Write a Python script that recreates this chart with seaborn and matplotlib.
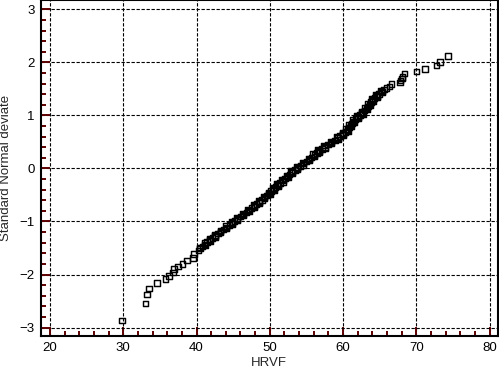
import matplotlib
matplotlib.use("Agg")
import matplotlib.pyplot as plt
import seaborn as sns
from matplotlib.ticker import MultipleLocator

# --- values (HRVF vs standard normal deviate) ---
hrvf_low = [29.86, 33.05, 33.23, 33.55, 34.64, 35.78, 36.27, 36.82, 36.96,
            37.5, 38.1, 38.7, 39.55, 39.64, 40.3]
dev_low = [-2.87, -2.55, -2.38, -2.26, -2.16, -2.09, -2.03, -1.96, -1.90,
           -1.85, -1.80, -1.74, -1.69, -1.61, -1.55]

hrvf_mid = [40.5, 40.8, 41.1, 41.4, 41.8, 42.2, 42.5, 42.9, 43.3, 43.7,
            44.1, 44.5, 44.9, 45.2, 45.6, 46.0, 46.4, 46.8, 47.1, 47.5,
            47.9, 48.2, 48.6, 48.9, 49.3, 49.6, 49.9, 50.2, 50.5, 50.8,
            51.1, 51.4, 51.8, 52.1, 52.4, 52.7, 53.0, 53.4, 53.8, 54.2,
            54.6, 55.0, 55.4, 55.7, 56.1, 56.4, 56.7, 57.1, 57.5, 57.9,
            58.4, 58.9, 59.3, 59.6, 60.0, 60.3, 60.6, 60.8, 61.0, 61.2,
            61.4, 61.7, 62.0, 62.3, 62.6, 62.9, 63.2, 63.4, 63.6, 63.8,
            64.0, 64.3, 64.6, 64.9, 65.3, 65.6]
dev_mid = [-1.51, -1.47, -1.43, -1.39, -1.35, -1.31, -1.27, -1.23, -1.19, -1.15,
           -1.11, -1.07, -1.03, -0.99, -0.95, -0.91, -0.87, -0.83, -0.79, -0.75,
           -0.71, -0.67, -0.63, -0.59, -0.55, -0.51, -0.47, -0.43, -0.39, -0.35,
           -0.31, -0.27, -0.23, -0.19, -0.15, -0.11, -0.07, -0.03, 0.01, 0.05,
           0.09, 0.13, 0.17, 0.21, 0.25, 0.29, 0.33, 0.37, 0.41, 0.45,
           0.49, 0.53, 0.57, 0.61, 0.65, 0.69, 0.73, 0.77, 0.81, 0.85,
           0.89, 0.93, 0.97, 1.01, 1.05, 1.09, 1.13, 1.17, 1.21, 1.25,
           1.29, 1.33, 1.37, 1.41, 1.45, 1.49]

# second batch of points in the dense middle band
hrvf_mid2 = [40.4, 41.2, 41.1, 41.9, 41.8, 42.6, 42.5, 43.3, 43.3, 44.1,
             44.0, 44.9, 44.8, 45.6, 45.5, 46.4, 46.3, 47.2, 47.0, 47.9,
             47.8, 48.6, 48.5, 49.3, 49.2, 50.0, 49.8, 50.6, 50.4, 51.2,
             51.0, 51.8, 51.7, 52.5, 52.3, 53.1, 52.9, 53.8, 53.7, 54.6,
             54.5, 55.4, 55.3, 56.1, 55.9, 56.8, 56.6, 57.5, 57.4, 58.4,
             58.3, 59.3, 59.2, 60.0, 59.9, 60.7, 60.4, 61.1, 60.8, 61.5,
             61.3, 62.0, 61.9, 62.7, 62.5, 63.3, 63.0, 63.7, 63.4, 64.1,
             63.9, 64.7, 64.5, 65.3, 65.2]
dev_mid2 = [-1.49, -1.45, -1.41, -1.37, -1.33, -1.29, -1.25, -1.21, -1.17, -1.13,
            -1.09, -1.05, -1.01, -0.97, -0.93, -0.89, -0.85, -0.81, -0.77, -0.73,
            -0.69, -0.65, -0.61, -0.57, -0.53, -0.49, -0.45, -0.41, -0.37, -0.33,
            -0.29, -0.25, -0.21, -0.17, -0.13, -0.09, -0.05, -0.01, 0.03, 0.07,
            0.11, 0.15, 0.19, 0.23, 0.27, 0.31, 0.35, 0.39, 0.43, 0.47,
            0.51, 0.55, 0.59, 0.63, 0.67, 0.71, 0.75, 0.79, 0.83, 0.87,
            0.91, 0.95, 0.99, 1.03, 1.07, 1.11, 1.15, 1.19, 1.23, 1.27,
            1.31, 1.35, 1.39, 1.43, 1.47]

hrvf_high = [65.9, 66.3, 66.6, 67.75, 67.8, 68.0, 68.1, 68.35, 70.0, 71.2,
             72.76, 73.2, 74.3]
dev_high = [1.52, 1.55, 1.59, 1.62, 1.66, 1.70, 1.73, 1.79, 1.83, 1.875,
            1.94, 2.01, 2.12]

hrvf = hrvf_low + hrvf_mid + hrvf_mid2 + hrvf_high
deviate = dev_low + dev_mid + dev_mid2 + dev_high

sns.set_theme(style="white")
plt.rcParams['font.family'] = ['Liberation Sans', 'DejaVu Sans']

fig = plt.figure(figsize=(4.99, 3.72), dpi=100)
ax = fig.add_axes([0.0816, 0.0968, 0.916, 0.902])

ax.grid(True, which="major", color="black", linestyle=(0, (3, 1.5)), linewidth=0.8)
ax.set_axisbelow(True)

sns.scatterplot(x=hrvf, y=deviate, marker="s", s=16, facecolor="none",
                edgecolor="black", linewidth=1.05, ax=ax, zorder=3)

ax.set_xlim(18.75, 81.1)
ax.set_ylim(-3.16, 3.17)
ax.xaxis.set_major_locator(MultipleLocator(10))
ax.xaxis.set_minor_locator(MultipleLocator(2))
ax.yaxis.set_major_locator(MultipleLocator(1))
ax.yaxis.set_minor_locator(MultipleLocator(0.2))

tick_red = "#5e0000"
ax.tick_params(which="both", direction="in", colors=tick_red, labelcolor="black",
               labelsize=9.5, left=True, bottom=True, top=False, right=False)
ax.tick_params(which="major", length=6.5, width=1.4, pad=4.5)
ax.tick_params(which="minor", length=3.6, width=1.4)

for sp in ax.spines.values():
    sp.set_color("black")
    sp.set_linewidth(1.5)

ax.set_xlabel("HRVF", fontsize=9.5)
ax.set_ylabel("Standard Normal deviate", fontsize=9.5)
ax.xaxis.set_label_coords(0.5, -0.063)
ax.yaxis.set_label_coords(-0.062, 0.5)

plt.savefig("out.png", dpi=100)
